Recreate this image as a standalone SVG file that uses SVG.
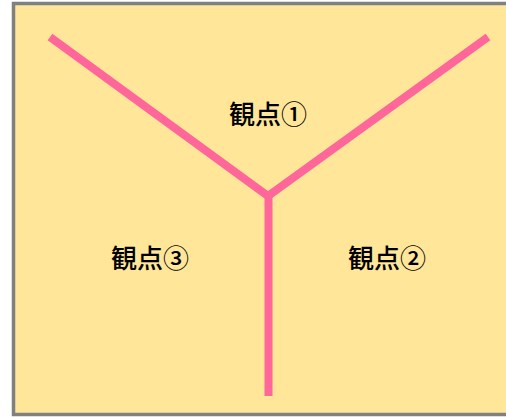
<svg xmlns="http://www.w3.org/2000/svg" width="506" height="417" viewBox="0 0 506 417">
<style>
.lbl{font-family:"Noto Sans CJK JP","Noto Sans CJK SC",sans-serif;font-size:26px;font-weight:500;fill:#000;text-anchor:middle;dominant-baseline:central}
.ln{stroke:#FF6699;stroke-width:8;fill:none;stroke-linecap:butt}
</style>
<rect x="13.5" y="3.5" width="500" height="411" fill="#FFE699" stroke="#808080" stroke-width="3.5"/>
<g id="connectors">
<polyline class="ln" points="50,37 268,196 488,37"/>
<line class="ln" x1="268.5" y1="196" x2="268.5" y2="396"/>
</g>
<g id="view1"><text class="lbl" x="268" y="112">観点①</text></g>
<g id="view2"><text class="lbl" x="387" y="256">観点②</text></g>
<g id="view3"><text class="lbl" x="150" y="256">観点③</text></g>
</svg>
